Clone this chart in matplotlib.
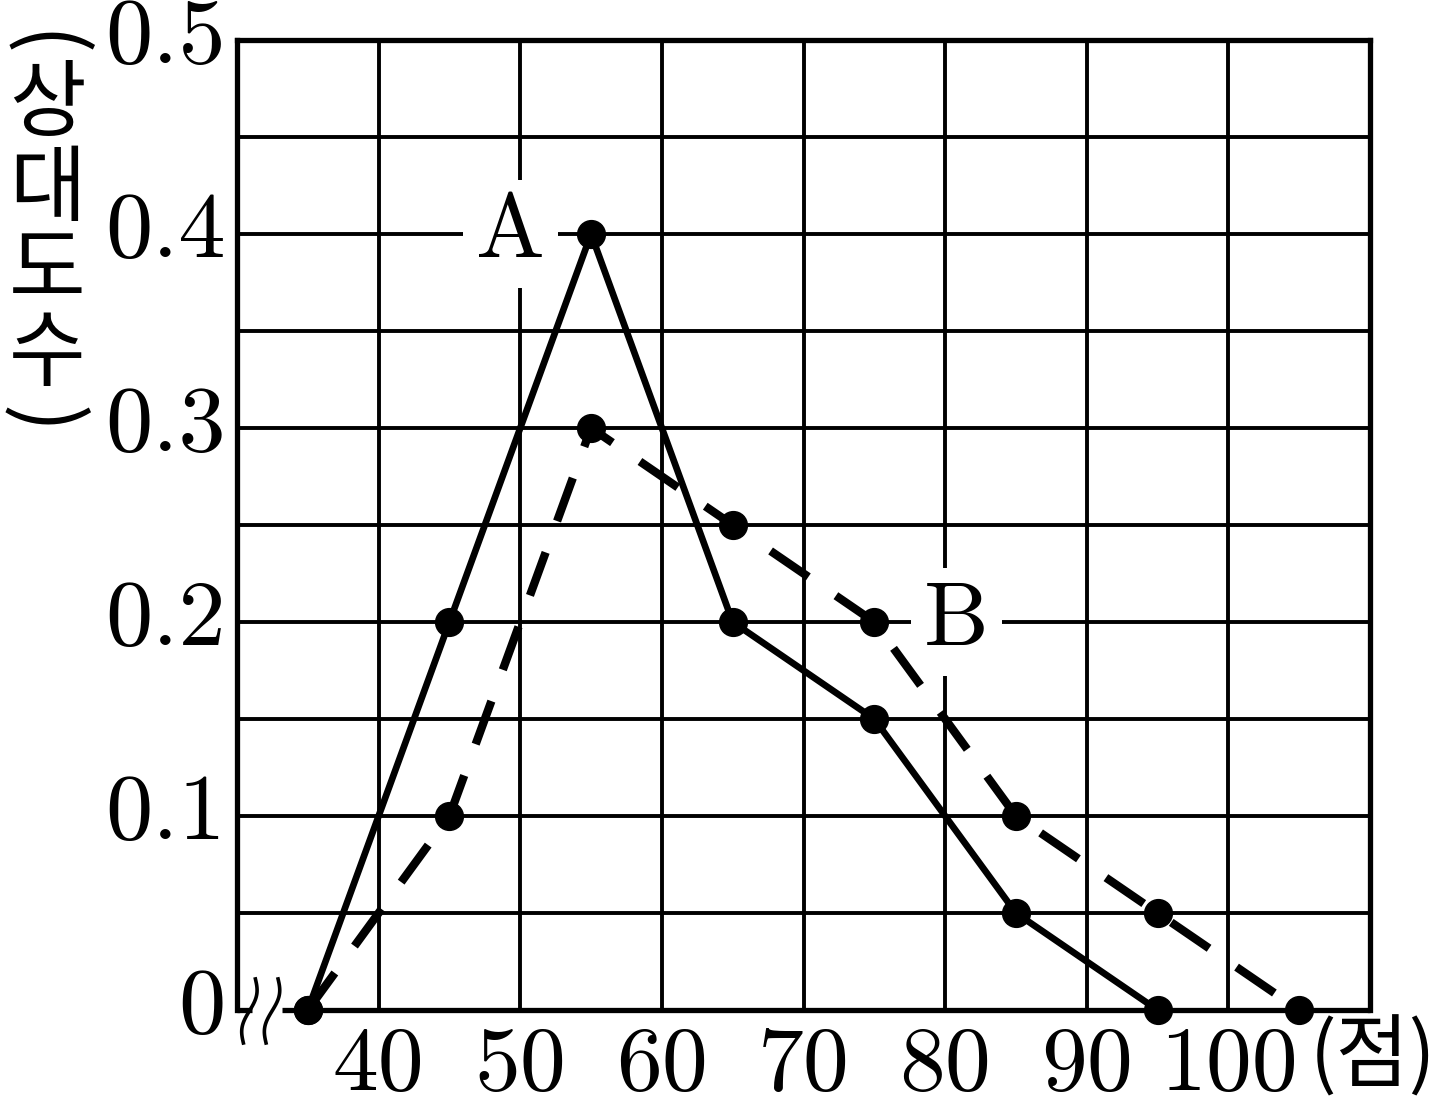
import numpy as np
import matplotlib.pyplot as plt

# data
scores_a = [35, 45, 55, 65, 75, 85, 95]
freq_a = [0, 0.2, 0.4, 0.2, 0.15, 0.05, 0]
scores_b = [35, 45, 55, 65, 75, 85, 95, 105]
freq_b = [0, 0.1, 0.3, 0.25, 0.2, 0.1, 0.05, 0]

x_ticks = [40, 50, 60, 70, 80, 90, 100]
y_ticks = [0, 0.1, 0.2, 0.3, 0.4, 0.5]
y_tick_labels = ['0', '0.1', '0.2', '0.3', '0.4', '0.5']

num_font = 'cmr10'
kor_font = ['Noto Sans CJK KR', 'DejaVu Sans']

fig = plt.figure(figsize=(14.55, 11.14), dpi=100)
ax = fig.add_axes([237 / 1455, 104 / 1114, (1370 - 237) / 1455, (1010 - 40) / 1114])
ax.set_xlim(30, 110)
ax.set_ylim(0, 0.5)

# grid
for gx in np.arange(40, 110, 10):
    ax.axvline(gx, color='black', lw=2.8, zorder=1)
for gy in np.arange(0.05, 0.5, 0.05):
    ax.axhline(gy, color='black', lw=2.8, zorder=1)

for side in ['top', 'left', 'right']:
    ax.spines[side].set_linewidth(3.8)
ax.spines['bottom'].set_visible(False)

# bottom axis with a break
ax.plot([30, 31.05], [0, 0], color='black', lw=3.8, clip_on=False, solid_capstyle='butt', zorder=3)
ax.plot([33.2, 110], [0, 0], color='black', lw=3.8, clip_on=False, solid_capstyle='butt', zorder=3)
t = np.linspace(0, 1, 50)
for x0 in [31.3, 32.9]:
    wx = x0 - 0.85 * t + 0.3 * np.sin(2 * np.pi * t)
    wy = 0.016 - 0.033 * t
    ax.plot(wx, wy, color='black', lw=2.6, clip_on=False, zorder=3)

# series
ax.plot(scores_a, freq_a, color='black', lw=4.8, marker='o', ms=20,
        clip_on=False, zorder=5)
ax.plot(scores_b, freq_b, color='black', lw=6.0, marker='o', ms=20,
        dashes=(5.5, 4), clip_on=False, zorder=4)

# labels A, B
ax.text(49.3, 0.4, 'A', fontfamily=num_font, fontsize=66, ha='center', va='center',
        bbox=dict(facecolor='white', edgecolor='none', pad=9), zorder=3)
ax.text(80.8, 0.2, 'B', fontfamily=num_font, fontsize=66, ha='center', va='center',
        bbox=dict(facecolor='white', edgecolor='none', pad=9), zorder=3)

ax.set_xticks(x_ticks)
ax.set_xticklabels([str(v) for v in x_ticks], fontfamily=num_font, fontsize=66)
ax.set_yticks(y_ticks)
ax.set_yticklabels(y_tick_labels, fontfamily=num_font, fontsize=68)
ax.tick_params(axis='both', length=0)
ax.tick_params(axis='x', pad=12)
ax.tick_params(axis='y', pad=8)
for lbl in ax.get_yticklabels():
    lbl.set_verticalalignment('center')

# unit label
fig.text(1310 / 1455, 1 - 1058 / 1114, '(점)', fontfamily=kor_font,
         fontsize=57, ha='left', va='center')

# vertical y label: parentheses turned sideways
y_chars = ['(', '상', '대', '도', '수', ')']
y_pos = [45, 105, 190, 272, 355, 420]
for ch, yp in zip(y_chars, y_pos):
    rot = -90 if ch in '()' else 0
    xp = 42 if ch in '()' else 47
    fig.text(xp / 1455, 1 - yp / 1114, ch, fontfamily=kor_font, fontsize=60,
             ha='center', va='center', rotation=rot)

fig.savefig('out.png', dpi=100)
